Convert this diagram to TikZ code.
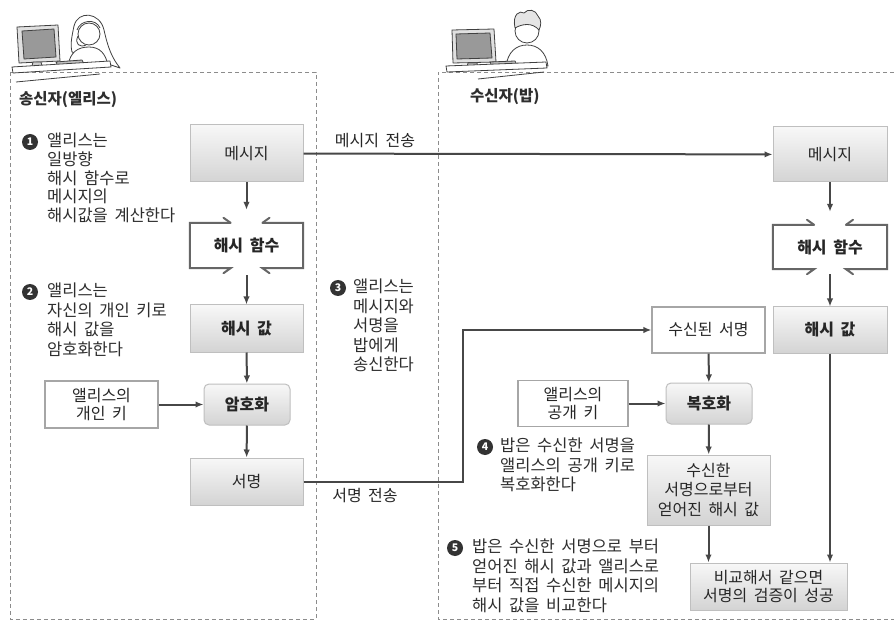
\documentclass[tikz,border=0pt]{standalone}
\usepackage{fontspec}
\setmainfont[WordSpace=1.8]{Noto Sans CJK KR}
\usetikzlibrary{arrows.meta}

\newcommand{\boxfont}{\fontsize{16}{19.5}\selectfont}
\newcommand{\notefont}{\fontsize{16.5}{19.5}\selectfont}
\newcommand{\badgefont}{\fontsize{10.5}{10.5}\selectfont\bfseries}

% hash-function frame: open at the top and bottom centre, barbed ends
\newcommand{\hashframe}[1]{%
  \draw[hframe] ([xshift=-16pt]#1.north) -- ++(-7,-5);
  \draw[hframe] ([xshift=-16pt]#1.north) -- (#1.north west) -- (#1.south west) -- ([xshift=-16pt]#1.south) -- ++(-7,5);
  \draw[hframe] ([xshift=16pt]#1.north) -- ++(7,-5);
  \draw[hframe] ([xshift=16pt]#1.north) -- (#1.north east) -- (#1.south east) -- ([xshift=16pt]#1.south) -- ++(7,5);
}

\tikzset{
  base/.style={font=\boxfont, text=black!85, align=center, inner sep=2pt},
  graybox/.style={base, draw=black!25, line width=1pt, top color=black!3, bottom color=black!17},
  roundbox/.style={graybox, rounded corners=5pt, font=\boxfont\bfseries},
  whitebox/.style={base, draw=black!35, line width=1.2pt, fill=white},
  hashbox/.style={base, font=\boxfont\bfseries},
  hframe/.style={draw=black!60, line width=2pt, line cap=round, line join=miter},
  arr/.style={draw=black!72, line width=2pt, -{Latex[length=8pt,width=6.5pt]}},
  lbl/.style={font=\boxfont, text=black!85, inner sep=0pt},
  note/.style={font=\notefont, text=black!82, align=left, inner sep=0pt, anchor=north west},
  badge/.style={circle, fill=black!80, text=white, font=\badgefont, inner sep=0pt, minimum size=16pt},
  zone/.style={draw=black!45, line width=0.9pt, dash pattern=on 4pt off 3pt},
  title/.style={font=\fontsize{15.5}{17}\selectfont\bfseries, text=black!82, inner sep=0pt, anchor=west},
  sketch/.style={draw=black!75, line width=0.8pt, line join=round},
}

\begin{document}
\begin{tikzpicture}[x=1pt, y=-1pt]
\useasboundingbox[fill=white] (0,0) rectangle (894,620);

% ---------- sender and receiver zones ----------
\draw[zone] (10,72) rectangle (316,619);
\draw[zone] (894,72) -- (438,72) -- (438,619) -- (894,619);

% ---------- Alice at her computer ----------
\draw[sketch, fill=black!12] (17,27) -- (58,25) -- (60,61) -- (19,63) -- cycle;
\draw[sketch, fill=black!40] (22,31) -- (54,29) -- (56,57) -- (24,59) -- cycle;
\draw[sketch, fill=black!20] (33,62) -- (41,62) -- (43,70) -- (31,70) -- cycle;
\draw[sketch, fill=white] (120,68) .. controls (112,58) and (108,48) .. (104,30)
      .. controls (100,12) and (78,10) .. (74,26) .. controls (72,36) and (70,44) .. (72,52) -- cycle;
\draw[sketch, fill=white] (68,66) .. controls (70,52) and (78,47) .. (89,47)
      .. controls (100,47) and (106,54) .. (108,66) -- cycle;
\draw[sketch, fill=white] (89,34) circle (11);
\draw[sketch] (77,30) .. controls (80,20) and (96,18) .. (100,28);
\draw[sketch] (78,36) .. controls (74,44) and (80,48) .. (86,45);
\draw[sketch, fill=black!25] (56,62) -- (82,60) -- (84,64) -- (58,66) -- cycle;
\draw[sketch, fill=white] (12,67) -- (110,61) -- (111,67) -- (13,73) -- cycle;
\draw[sketch] (16,82) -- (100,74);

% ---------- Bob at his computer ----------
\draw[sketch, fill=black!12] (452,30) -- (494,29) -- (496,62) -- (453,63) -- cycle;
\draw[sketch, fill=black!40] (456,34) -- (490,33) -- (492,58) -- (457,59) -- cycle;
\draw[sketch, fill=black!20] (468,63) -- (477,63) -- (479,70) -- (466,70) -- cycle;
\draw[sketch, fill=white] (506,66) .. controls (508,52) and (516,45) .. (527,45)
      .. controls (538,45) and (546,52) .. (548,66) -- cycle;
\draw[sketch, fill=white] (527,31) circle (12);
\draw[sketch, fill=black!10] (515,28) .. controls (512,14) and (520,10) .. (524,13)
      .. controls (528,8) and (536,10) .. (538,16) .. controls (542,20) and (541,26) .. (539,30)
      .. controls (532,22) and (522,24) .. (515,28) -- cycle;
\draw[sketch, fill=black!25] (490,62) -- (515,61) -- (517,65) -- (492,66) -- cycle;
\draw[sketch, fill=white] (446,66) -- (546,62) -- (547,68) -- (447,72) -- cycle;
\draw[sketch] (478,79) -- (544,72);

% ---------- zone titles ----------
\node[title] (tsend) at (19,100) {송신자(엘리스)};
\node[title] (trecv) at (470,97) {수신자(밥)};

% ---------- sender side ----------
\node[graybox, minimum width=113pt, minimum height=57pt] (m1) at (246.5,153.5) {메시지};
\node[hashbox, minimum width=113pt, minimum height=45pt] (h1) at (246.5,245.5) {해시 함수};
\hashframe{h1}
\node[graybox, font=\boxfont\bfseries, minimum width=113pt, minimum height=47pt] (v1) at (246.5,328.5) {해시 값};
\node[roundbox, minimum width=86pt, minimum height=41pt] (e1) at (247,404.5) {암호화};
\node[whitebox, minimum width=113pt, minimum height=47pt] (k1) at (101.5,404.5) {앨리스의\\[-2pt]개인 키};
\node[graybox, minimum width=113pt, minimum height=47pt] (s1) at (246.5,481.5) {서명};

\draw[arr, shorten >=13pt] (m1) -- (h1);
\draw[arr, shorten <=7pt] (h1) -- (v1);
\draw[arr] (v1) -- (e1);
\draw[arr] (k1) -- (e1);
\draw[arr] (e1) -- (s1);

% ---------- receiver side ----------
\node[graybox, minimum width=114pt, minimum height=55pt] (m2) at (830,154.5) {메시지};
\node[hashbox, minimum width=114pt, minimum height=44pt] (h2) at (830,247) {해시 함수};
\hashframe{h2}
\node[graybox, font=\boxfont\bfseries, minimum width=114pt, minimum height=46pt] (v2) at (830,330) {해시 값};
\node[whitebox, minimum width=113pt, minimum height=46pt] (r2) at (708.5,330) {수신된 서명};
\node[roundbox, minimum width=86pt, minimum height=41pt] (d2) at (709,403.5) {복호화};
\node[whitebox, minimum width=110pt, minimum height=46pt] (pk2) at (573,403.5) {앨리스의\\[-2pt]공개 키};
\node[graybox, minimum width=123pt, minimum height=70pt] (x2) at (708.5,490) {수신한\\서명으로부터\\얻어진 해시 값};
\node[graybox, minimum width=157pt, minimum height=47pt] (c2) at (768.5,586.5) {비교해서 같으면\\[-1pt]서명의 검증이 성공};

\draw[arr, shorten >=13pt] (m2) -- (h2);
\draw[arr, shorten <=5pt] (h2) -- (v2);
\draw[arr] (r2) -- (d2);
\draw[arr] (pk2) -- (d2);
\draw[arr] (d2) -- (x2);
\draw[arr] (x2.south) -- (x2.south |- c2.north);
\draw[arr] (v2.south) -- (v2.south |- c2.north);

% ---------- transfers between the two parties ----------
\draw[arr] (m1) -- (m2);
\node[lbl] (lmsg) at (375,141) {메시지 전송};
\coordinate (turn) at (463,330);
\draw[arr] (s1.east) -| (turn) -- (r2.west);
\node[lbl] (lsig) at (365,496) {서명 전송};

% ---------- step notes ----------
\node[badge] (b1) at (30,142) {1};
\node[note, font=\fontsize{16.5}{18.7}\selectfont] (t1) at (47,133) {앨리스는\\일방향\\해시 함수로\\메시지의\\해시값을 계산한다};
\node[badge] (b2) at (30,292) {2};
\node[note] (t2) at (47,283) {앨리스는\\자신의 개인 키로\\해시 값을\\암호화한다};
\node[badge] (b3) at (338,288) {3};
\node[note] (t3) at (353,279) {앨리스는\\메시지와\\서명을\\밥에게\\송신한다};
\node[badge] (b4) at (485,447) {4};
\node[note] (t4) at (500,438) {밥은 수신한 서명을\\앨리스의 공개 키로\\복호화한다};
\node[badge] (b5) at (455,548) {5};
\node[note] (t5) at (472,539) {밥은 수신한 서명으로 부터\\얻어진 해시 값과 앨리스로\\부터 직접 수신한 메시지의\\해시 값을 비교한다};
\end{tikzpicture}
\end{document}
